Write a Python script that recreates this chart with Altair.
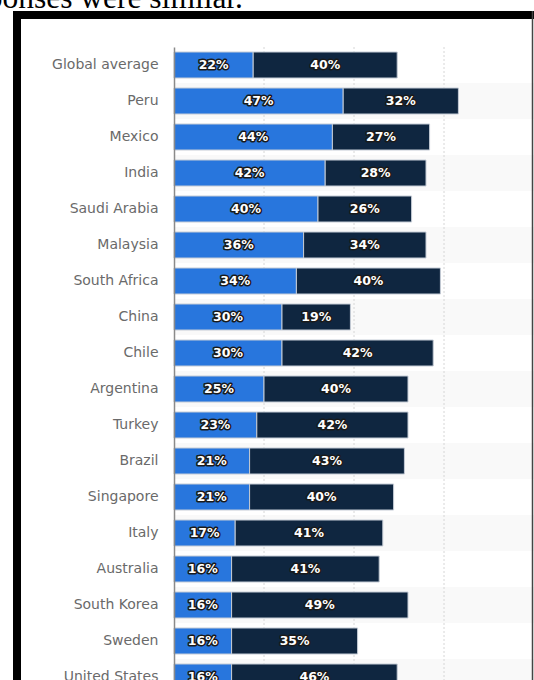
import altair as alt
import pandas as pd

countries = ["Global average", "Peru", "Mexico", "India", "Saudi Arabia", "Malaysia",
             "South Africa", "China", "Chile", "Argentina", "Turkey", "Brazil",
             "Singapore", "Italy", "Australia", "South Korea", "Sweden", "United States"]
strongly = [22, 47, 44, 42, 40, 36, 34, 30, 30, 25, 23, 21, 21, 17, 16, 16, 16, 16]
somewhat = [40, 32, 27, 28, 26, 34, 40, 19, 42, 40, 42, 43, 40, 41, 41, 49, 35, 46]
series = ["Agree strongly", "Agree somewhat"]
grid_values = [25, 50, 75]
caption = "responses were similar."

rows = []
for i, (c, a, b) in enumerate(zip(countries, strongly, somewhat)):
    rows.append(dict(country=c, series=series[0], start=0, end=a, value=a, mid=a / 2))
    rows.append(dict(country=c, series=series[1], start=a, end=a + b, value=b, mid=a + b / 2))
df = pd.DataFrame(rows)
df["label"] = df["value"].astype(str) + "%"
stripes_df = pd.DataFrame({"country": countries, "stripe": [i % 2 for i in range(len(countries))]})
grid_df = pd.DataFrame({"v": grid_values})

W = 360
H = 633
STEP = 36
LEFT = 174
TOP = 47

y = alt.Y("country:N", sort=countries,
          scale=alt.Scale(range=[0, STEP * len(countries)], paddingInner=0, paddingOuter=0),
          axis=alt.Axis(title=None, ticks=False, labelPadding=16, labelFont="DejaVu Sans",
                        labelFontSize=14, labelColor="#6a6a6a", domainColor="#8a8a8a",
                        domainWidth=1.5, labelLimit=200))
x_scale = alt.Scale(domain=[0, 100], nice=False, zero=True)

stripes = alt.Chart(stripes_df).transform_filter("datum.stripe == 1").mark_rect(
    color="#f9f9f9").encode(y=y, x=alt.value(0), x2=alt.value(W))

grid = alt.Chart(grid_df).mark_rule(color="#d6d6d6", strokeDash=[2, 2], strokeWidth=1).encode(
    x=alt.X("v:Q", scale=x_scale, axis=None), y=alt.value(0), y2=alt.value(STEP * len(countries)))

bars = alt.Chart(df).mark_bar(size=26, stroke="#c5ccd6", strokeWidth=1).encode(
    y=y,
    x=alt.X("start:Q", scale=x_scale, axis=None),
    x2="end:Q",
    color=alt.Color("series:N", scale=alt.Scale(domain=series, range=["#2876dd", "#0f2640"]),
                    legend=None))

shadow = alt.Chart(df).mark_text(font="DejaVu Sans", fontSize=12.5, fontWeight="bold",
                                 color="#1a1a1a", stroke="#1a1a1a", strokeWidth=3,
                                 strokeJoin="round").encode(
    y=y, x=alt.X("mid:Q", scale=x_scale, axis=None), text="label:N")
labels = alt.Chart(df).mark_text(font="DejaVu Sans", fontSize=12.5, fontWeight="bold",
                                 color="white").encode(
    y=y, x=alt.X("mid:Q", scale=x_scale, axis=None), text="label:N")

one = alt.Data(values=[{"k": 1}])
frame_top = alt.Chart(one).mark_rect(color="black").encode(
    x=alt.value(13 - LEFT), x2=alt.value(W), y=alt.value(11 - TOP), y2=alt.value(19 - TOP))
frame_left = alt.Chart(one).mark_rect(color="black").encode(
    x=alt.value(13 - LEFT), x2=alt.value(21 - LEFT), y=alt.value(11 - TOP), y2=alt.value(700))
frame_right = alt.Chart(one).mark_rule(color="#444444", strokeWidth=1.5).encode(
    x=alt.value(532.5 - LEFT), y=alt.value(11 - TOP), y2=alt.value(700))
cap = alt.Chart(one).mark_text(font="Liberation Serif", fontSize=31.5, align="right",
                               baseline="alphabetic", color="black").encode(
    x=alt.value(243 - LEFT), y=alt.value(8 - TOP), text=alt.value(caption))

chart = alt.layer(stripes, grid, bars, shadow, labels, frame_top, frame_left, frame_right, cap).properties(
    width=W, height=H,
    autosize=alt.AutoSizeParams(type="none"),
    padding={"left": LEFT, "top": TOP, "right": 0, "bottom": 0},
    background="white",
).configure_view(stroke=None)

chart.save("out.html", embed_options={"renderer": "svg", "actions": False})
